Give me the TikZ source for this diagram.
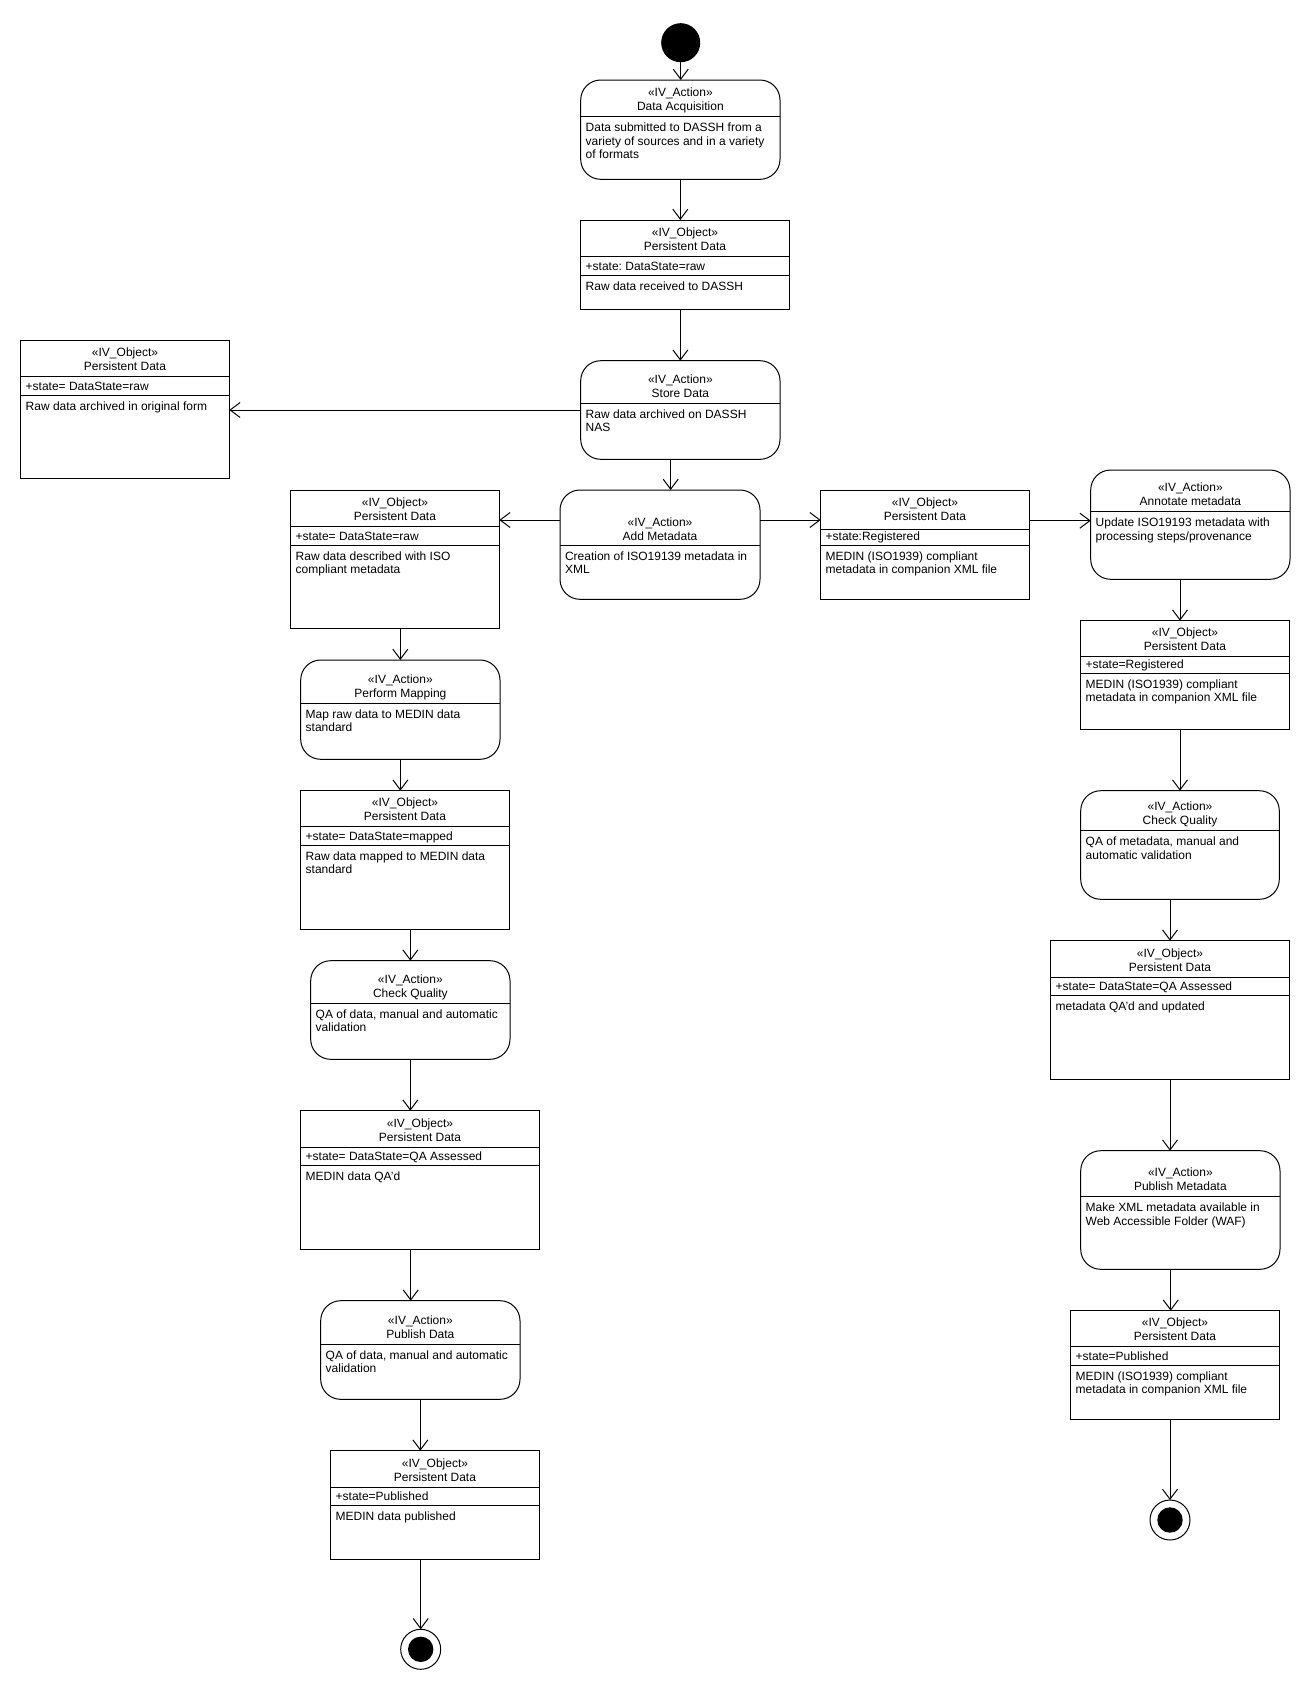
\documentclass[tikz,border=0pt]{standalone}
\usepackage{fontspec}
\setmainfont{Liberation Sans}
\usetikzlibrary{arrows.meta}
\frenchspacing
\newcommand\firststrut{\rule{0pt}{11pt}}
\newcommand\hdroff{6}
% action box: name, L, T, R, B, sep, title, body
\newcommand\actbox[8]{%
  \pgfmathsetmacro\bw{#4-#2}\pgfmathsetmacro\bh{#5-#3}%
  \pgfmathsetmacro\hb{#6-\hdroff}\pgfmathsetmacro\ha{#6-\hdroff-14}\pgfmathsetmacro\cx{(#2+#4)/2}%
  \node[actshape, minimum width=\bw pt, minimum height=\bh pt, anchor=north west] (#1) at (#2,#3) {};
  \draw (#1.west |- 0,#6) -- (#1.east |- 0,#6);
  \node[ttl] (#1-t1) at (\cx,\ha) {«IV\_Action»};
  \node[ttl] (#1-t2) at (\cx,\hb) {#7};
  \node[bodytxt] (#1-b) at (#2+4.5,#6+3.5) {\firststrut#8};
}
% object box: name, L, T, R, B, sep1, sep2, attribute, body
\newcommand\objbox[9]{%
  \pgfmathsetmacro\bw{#4-#2}\pgfmathsetmacro\bh{#5-#3}%
  \pgfmathsetmacro\hb{#6-\hdroff}\pgfmathsetmacro\ha{#6-\hdroff-14}\pgfmathsetmacro\cx{(#2+#4)/2}%
  \node[objshape, minimum width=\bw pt, minimum height=\bh pt, anchor=north west] (#1) at (#2,#3) {};
  \draw (#1.west |- 0,#6) -- (#1.east |- 0,#6);
  \draw (#1.west |- 0,#7) -- (#1.east |- 0,#7);
  \node[ttl] (#1-t1) at (\cx,\ha) {«IV\_Object»};
  \node[ttl] (#1-t2) at (\cx,\hb) {Persistent Data};
  \node[attrtxt] (#1-a) at (#2+4.5,#7-5) {#8};
  \node[bodytxt] (#1-b) at (#2+4.5,#7+3.5) {\firststrut#9};
}
\begin{document}
\begin{tikzpicture}[x=1pt,y=-1pt, line width=1pt, font=\fontsize{12}{13.5}\selectfont,
  actshape/.style={draw, rounded corners=20pt, inner sep=0pt, outer sep=0pt, fill=white},
  objshape/.style={draw, inner sep=0pt, outer sep=0pt, fill=white},
  ttl/.style={anchor=base, inner sep=0pt},
  attrtxt/.style={anchor=base west, inner sep=0pt},
  bodytxt/.style={anchor=north west, inner sep=0pt, align=left},
  arr/.style={-{Straight Barb[length=10pt,width=15pt]}},
  startdot/.style={circle, fill=black, draw=black, inner sep=0pt, outer sep=0pt, minimum size=38pt},
  endring/.style={circle, draw=black, fill=white, inner sep=0pt, outer sep=0pt, minimum size=40pt},
  enddot/.style={circle, fill=black, inner sep=0pt, outer sep=0pt, minimum size=25.4pt},
]
\fill[white] (0,0) rectangle (1310,1690);
\useasboundingbox (0,0) rectangle (1310,1690);

% initial node
\node[startdot] (start) at (680.7,42.7) {};

% actions
\actbox{A1}{580.7}{80}{780}{179.3}{116.7}{Data Acquisition}{Data submitted to DASSH from a\\variety of sources and in a variety\\of formats}
\actbox{A2}{580.7}{360.7}{780}{459.3}{403.3}{Store Data}{Raw data archived on DASSH\\NAS}
\renewcommand\hdroff{4.5}
\actbox{A3}{560}{490}{760}{599.3}{545.3}{Add Metadata}{Creation of ISO19139 metadata in\\XML}
\renewcommand\hdroff{6}
\actbox{A4}{1090.7}{470}{1290}{579.3}{511.7}{Annotate metadata}{Update ISO19193 metadata with\\processing steps/provenance}
\actbox{A5}{300.7}{660}{500}{759.3}{703.3}{Perform Mapping}{Map raw data to MEDIN data\\standard}
\actbox{A6}{310.7}{960.7}{510}{1059.3}{1003.3}{Check Quality}{QA of data, manual and automatic\\validation}
\actbox{A7}{320.7}{1300.7}{520}{1399.3}{1344}{Publish Data}{QA of data, manual and automatic\\validation}
\actbox{A8}{1080.7}{790.7}{1279.3}{899.3}{830.7}{Check Quality}{QA of metadata, manual and\\automatic validation}
\actbox{A9}{1080.7}{1150.7}{1280}{1269.3}{1196.7}{Publish Metadata}{Make XML metadata available in\\Web Accessible Folder (WAF)}

% objects
\objbox{O1}{580.7}{220}{789.3}{309.3}{256.7}{275.3}{+state: DataState=raw}{Raw data received to DASSH}
\objbox{O2}{20.7}{340}{229.3}{478.7}{376.7}{395.3}{+state= DataState=raw}{Raw data archived in original form}
\objbox{O3}{290.7}{490}{499.3}{628.7}{526.7}{545.3}{+state= DataState=raw}{Raw data described with ISO\\compliant metadata}
\renewcommand\hdroff{9}
\objbox{O4}{820.7}{490.7}{1029.3}{599.3}{529.3}{545.3}{+state:Registered}{MEDIN (ISO1939) compliant\\metadata in companion XML file}
\renewcommand\hdroff{6}
\objbox{O5}{1080.7}{620.7}{1289.3}{729.3}{656.7}{673.3}{+state=Registered}{MEDIN (ISO1939) compliant\\metadata in companion XML file}
\objbox{O6}{300.7}{790.7}{509.3}{929.3}{826.7}{845.3}{+state= DataState=mapped}{Raw data mapped to MEDIN data\\standard}
\objbox{O7}{300.7}{1110.7}{539.3}{1249.3}{1147.3}{1165.3}{+state= DataState=QA Assessed}{MEDIN data QA'd}
\objbox{O8}{330.7}{1450.7}{539.3}{1559.3}{1487.3}{1505.3}{+state=Published}{MEDIN data published}
\objbox{O9}{1050.7}{940.7}{1289.3}{1079.3}{977.3}{995.3}{+state= DataState=QA Assessed}{metadata QA'd and updated}
\objbox{O10}{1070.7}{1310.7}{1279.3}{1419.3}{1346.7}{1365.3}{+state=Published}{MEDIN (ISO1939) compliant\\metadata in companion XML file}

% final nodes
\node[endring] (end1) at (420.7,1649.3) {};
\node[enddot] (end1in) at (end1) {};
\node[endring] (end2) at (1170,1520) {};
\node[enddot] (end2in) at (end2) {};

% helper coordinates for off-centre connectors
\coordinate (a2out) at ([xshift=-9.7pt]A2.south);
\coordinate (a3l) at ([yshift=24.65pt]A3.west);
\coordinate (a3r) at ([yshift=24.65pt]A3.east);
\coordinate (o4r) at ([yshift=24.3pt]O4.east);
\coordinate (a4d) at ([xshift=-10.35pt]A4.south);
\coordinate (a9d) at ([xshift=-9.65pt]A9.south);
\coordinate (o7d) at ([xshift=-9.3pt]O7.south);

% connectors
\draw[arr] (start.south) -- (start.south |- A1.north);
\draw[arr] (A1.south) -- (A1.south |- O1.north);
\draw[arr] (A2.north |- O1.south) -- (A2.north);
\draw[arr] (A2.west) -- (A2.west -| O2.east);
\draw[arr] (a2out) -- (a2out |- A3.north);
\draw[arr] (a3l) -- (a3l -| O3.east);
\draw[arr] (a3r) -- (a3r -| O4.west);
\draw[arr] (o4r) -- (o4r -| A4.west);
\draw[arr] (a4d) -- (a4d |- O5.north);
\draw[arr] (A8.north |- O5.south) -- (A8.north);
\draw[arr] (O9.north |- A8.south) -- (O9.north);
\draw[arr] (O9.south) -- (O9.south |- A9.north);
\draw[arr] (a9d) -- (a9d |- O10.north);
\draw[arr] (end2.north |- O10.south) -- (end2.north);
\draw[arr] (A5.north |- O3.south) -- (A5.north);
\draw[arr] (A5.south) -- (A5.south |- O6.north);
\draw[arr] (A6.north |- O6.south) -- (A6.north);
\draw[arr] (A6.south) -- (A6.south |- O7.north);
\draw[arr] (o7d) -- (o7d |- A7.north);
\draw[arr] (A7.south) -- (A7.south |- O8.north);
\draw[arr] (end1.north |- O8.south) -- (end1.north);
\end{tikzpicture}
\end{document}
